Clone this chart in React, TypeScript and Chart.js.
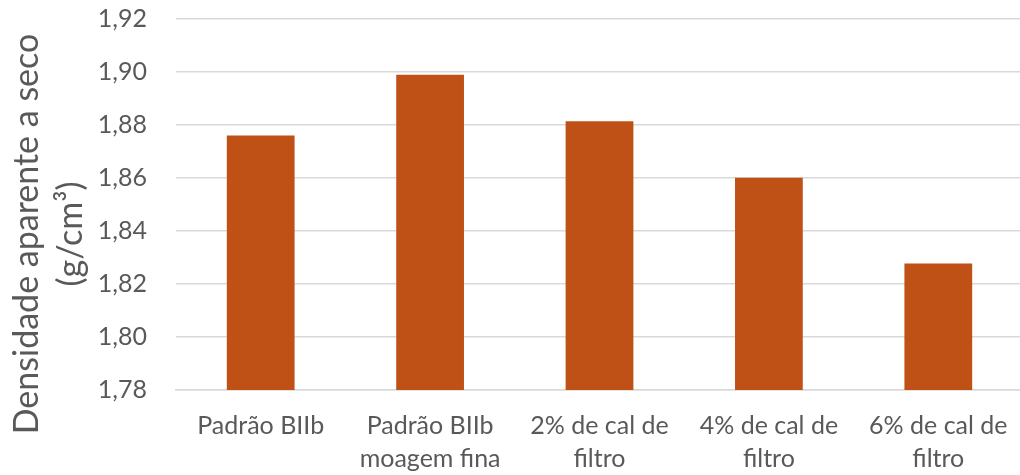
import React, { useEffect, useRef } from "react";
import { Chart, registerables } from "chart.js";

Chart.register(...registerables);

const categories: string[][] = [
  ["Padrão BIIb"],
  ["Padrão BIIb", "moagem fina"],
  ["2% de cal de", "filtro"],
  ["4% de cal de", "filtro"],
  ["6% de cal de", "filtro"],
];
const densityValues: number[] = [1.876, 1.899, 1.8814, 1.8601, 1.8277];
const yMin = 1.78;
const yMax = 1.92;
const yStep = 0.02;
const axisTitleLines: string[] = ["Densidade aparente a seco", "(g/cm³)"];

const FONT = "Lato, 'Open Sans', sans-serif";
const TEXT_COLOR = "#595959";
const BAR_COLOR = "#BF5016";
const GRID_COLOR = "#D9D9D9";

// Two-line rotated title for the value axis
const yTitlePlugin = {
  id: "yTitle",
  afterDraw(chart: Chart) {
    const ctx = chart.ctx;
    ctx.save();
    ctx.fillStyle = TEXT_COLOR;
    ctx.font = `34px ${FONT}`;
    ctx.textAlign = "center";
    ctx.textBaseline = "alphabetic";
    const cy = 234;
    const baselines = [38, 82];
    axisTitleLines.forEach((line, i) => {
      ctx.save();
      ctx.translate(baselines[i], cy);
      ctx.rotate(-Math.PI / 2);
      ctx.fillText(line, 0, 0);
      ctx.restore();
    });
    ctx.restore();
  },
};

export default function App() {
  const canvasRef = useRef<HTMLCanvasElement | null>(null);

  useEffect(() => {
    document.body.style.margin = "0";
    const canvas = canvasRef.current;
    if (!canvas) return;
    const chart = new Chart(canvas, {
      type: "bar",
      data: {
        labels: categories,
        datasets: [
          {
            data: densityValues,
            backgroundColor: BAR_COLOR,
            borderWidth: 0,
            barPercentage: 0.4,
            categoryPercentage: 1,
          },
        ],
      },
      options: {
        responsive: false,
        animation: false,
        layout: { padding: { top: 19, left: 0, right: 0, bottom: 0 } },
        plugins: {
          legend: { display: false },
          tooltip: { enabled: false },
        },
        scales: {
          x: {
            grid: { display: false, drawTicks: false },
            border: { display: true, color: GRID_COLOR, width: 1.5 },
            ticks: {
              color: TEXT_COLOR,
              font: { family: FONT, size: 25, lineHeight: 1.32 },
              padding: 19,
              maxRotation: 0,
              autoSkip: false,
            },
            afterFit: (scale: any) => {
              scale.height = 85;
              scale.paddingLeft = 0;
              scale.paddingRight = 0;
            },
          },
          y: {
            min: yMin,
            max: yMax,
            grid: { color: GRID_COLOR, lineWidth: 1.5, drawTicks: false },
            border: { display: false },
            ticks: {
              stepSize: yStep,
              color: TEXT_COLOR,
              font: { family: FONT, size: 25 },
              padding: 29,
              callback: (v: any) => Number(v).toFixed(2).replace(".", ","),
            },
            afterFit: (scale: any) => {
              scale.width = 176;
              scale.paddingTop = 0;
              scale.paddingBottom = 0;
            },
          },
        },
      },
      plugins: [yTitlePlugin],
    });
    return () => chart.destroy();
  }, []);

  return (
    <div style={{ width: 1020, height: 475, overflow: "hidden", position: "relative", background: "#fff" }}>
      <canvas ref={canvasRef} width={1023} height={475} style={{ display: "block" }} />
    </div>
  );
}
